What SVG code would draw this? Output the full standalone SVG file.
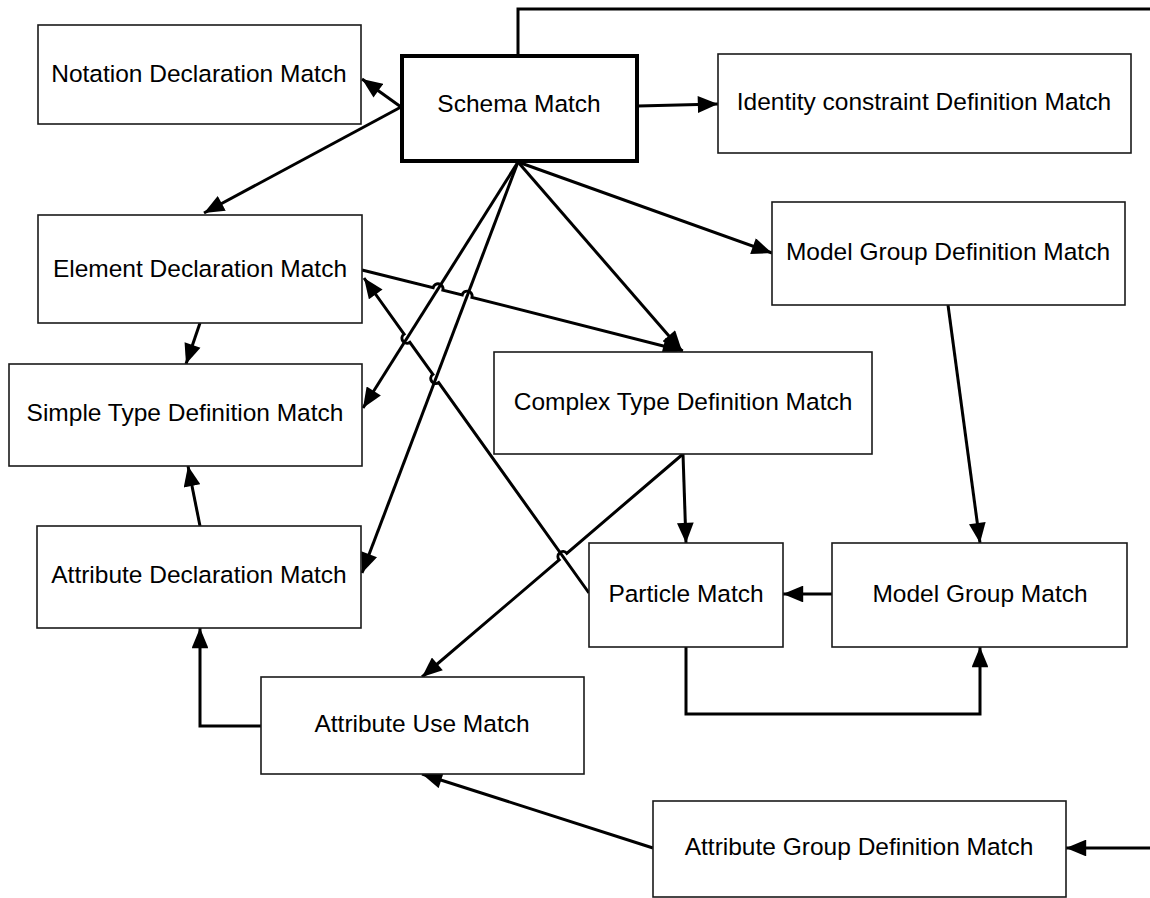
<svg xmlns="http://www.w3.org/2000/svg" width="1150" height="898" viewBox="0 0 1150 898">
  <style>
    .box { fill: #ffffff; stroke: #1a1a1a; stroke-width: 1.6; }
    .main { fill: #ffffff; stroke: #000000; stroke-width: 4; }
    .lbl { font-family: "Liberation Sans", Arial, sans-serif; font-size: 24.5px; fill: #000000; text-anchor: middle; }
    .edge { fill: none; stroke: #000000; stroke-width: 3; stroke-linejoin: miter; }
  </style>
  <defs>
    <marker id="arrow" viewBox="0 0 12 10" refX="12" refY="5" markerWidth="7" markerHeight="5.6" orient="auto" markerUnits="strokeWidth">
      <path d="M0,0 L12,5 L0,10 z" fill="#000000"/>
    </marker>
  </defs>
  <rect width="1150" height="898" fill="#ffffff"/>

  <!-- connectors -->
  <g id="connectors">
    <!-- Schema to Attribute Group Definition (routed round the right edge) -->
    <path class="edge" d="M518 54 V9 H1165 V848 H1066" marker-end="url(#arrow)"/>
    <path class="edge" d="M638 106 L718 104" marker-end="url(#arrow)"/>
    <path class="edge" d="M401 107 L362 79" marker-end="url(#arrow)"/>
    <path class="edge" d="M401 107 L204 213" marker-end="url(#arrow)"/>
    <path class="edge" d="M518 162 L363 408" marker-end="url(#arrow)"/>
    <path class="edge" d="M518 162 L362 573" marker-end="url(#arrow)"/>
    <path class="edge" d="M518 162 L682 351" marker-end="url(#arrow)"/>
    <path class="edge" d="M518 162 L772 253" marker-end="url(#arrow)"/>
    <!-- Element to Simple Type -->
    <path class="edge" d="M200 323 L186 364" marker-end="url(#arrow)"/>
    <!-- Element to Complex Type, jumping two crossings -->
    <path class="edge" d="M362 270 L433.1 287.7 A5 5 0 0 1 442.9 290.1 L462.2 295.0 A5 5 0 0 1 472.0 297.4 L683 351" marker-end="url(#arrow)"/>
    <!-- Particle to Element, jumping two crossings -->
    <path class="edge" d="M589 593 L438.7 382.6 A5 5 0 0 1 432.9 374.4 L409.9 342.3 A5 5 0 0 1 404.1 334.1 L364 278" marker-end="url(#arrow)"/>
    <!-- Complex Type to Attribute Use, jumping one crossing -->
    <path class="edge" d="M683 454 L566.8 553.3 A5 5 0 0 0 559.2 559.9 L422 677" marker-end="url(#arrow)"/>
    <path class="edge" d="M683 454 L686 543" marker-end="url(#arrow)"/>
    <path class="edge" d="M948 305 L980 543" marker-end="url(#arrow)"/>
    <path class="edge" d="M832 594 L783 594" marker-end="url(#arrow)"/>
    <path class="edge" d="M686 647 V714 H980 V647" marker-end="url(#arrow)"/>
    <path class="edge" d="M261 726 H200 V628" marker-end="url(#arrow)"/>
    <path class="edge" d="M653 848 L422 774" marker-end="url(#arrow)"/>
    <path class="edge" d="M200 526 L188 466" marker-end="url(#arrow)"/>
  </g>

  <!-- nodes -->
  <g id="notation-declaration">
    <rect class="box" x="38" y="25" width="323" height="99"/>
    <text class="lbl" x="199" y="82">Notation Declaration Match</text>
  </g>
  <g id="schema">
    <rect class="main" x="402" y="56" width="235" height="105"/>
    <text class="lbl" x="519" y="112">Schema Match</text>
  </g>
  <g id="identity-constraint">
    <rect class="box" x="718" y="54" width="413" height="99"/>
    <text class="lbl" x="924" y="110">Identity constraint Definition Match</text>
  </g>
  <g id="element-declaration">
    <rect class="box" x="38" y="215" width="324" height="108"/>
    <text class="lbl" x="200" y="277">Element Declaration Match</text>
  </g>
  <g id="model-group-definition">
    <rect class="box" x="772" y="202" width="353" height="103"/>
    <text class="lbl" x="948" y="260">Model Group Definition Match</text>
  </g>
  <g id="simple-type">
    <rect class="box" x="9" y="364" width="353" height="102"/>
    <text class="lbl" x="185" y="421">Simple Type Definition Match</text>
  </g>
  <g id="complex-type">
    <rect class="box" x="494" y="352" width="378" height="102"/>
    <text class="lbl" x="683" y="410">Complex Type Definition Match</text>
  </g>
  <g id="attribute-declaration">
    <rect class="box" x="37" y="526" width="324" height="102"/>
    <text class="lbl" x="199" y="583">Attribute Declaration Match</text>
  </g>
  <g id="particle">
    <rect class="box" x="589" y="543" width="194" height="104"/>
    <text class="lbl" x="686" y="602">Particle Match</text>
  </g>
  <g id="model-group">
    <rect class="box" x="832" y="543" width="295" height="104"/>
    <text class="lbl" x="980" y="602">Model Group Match</text>
  </g>
  <g id="attribute-use">
    <rect class="box" x="261" y="677" width="323" height="97"/>
    <text class="lbl" x="422" y="732">Attribute Use Match</text>
  </g>
  <g id="attribute-group-definition">
    <rect class="box" x="653" y="801" width="413" height="96"/>
    <text class="lbl" x="859" y="855">Attribute Group Definition Match</text>
  </g>
</svg>
